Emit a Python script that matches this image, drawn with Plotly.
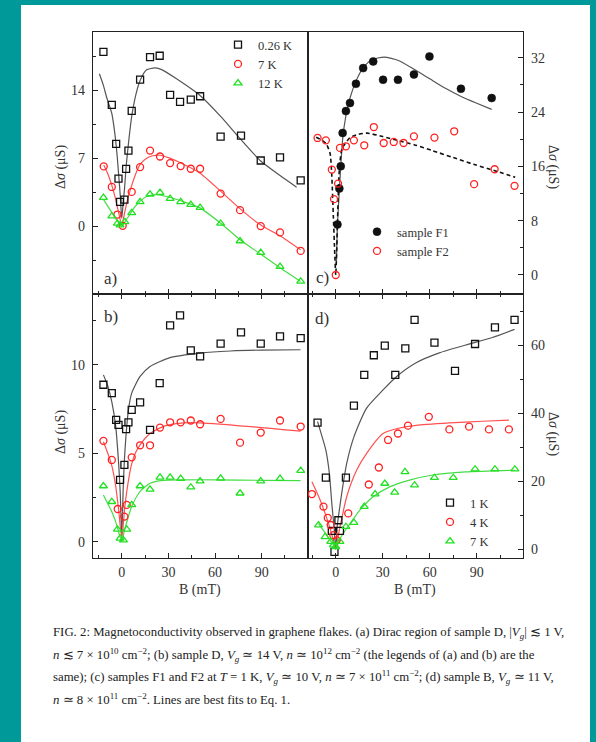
import plotly.graph_objects as go

# ---------------- data ----------------
# Panel a) Dirac region of sample D
a_sq_B = [-11.8, -6.4, -3.6, -2.1, -1.1, 1.7, 2.8, 4.3, 6.4, 11.8, 18.2, 24.4, 31.1, 37.5, 44.4, 50.4, 63.6, 76.7, 89.4, 101.8, 115.1]
a_sq_y = [17.96, 12.5, 8.47, 4.88, 2.49, 2.73, 5.9, 7.78, 11.88, 15.09, 17.41, 17.55, 13.52, 12.8, 13.04, 13.38, 9.22, 9.32, 6.76, 7.07, 4.71]
a_ci_B = [-11.6, -6.4, -2.8, 0.6, 6.4, 11.8, 18.2, 24.6, 31.1, 37.9, 44.4, 50.4, 63.6, 76.1, 89.4, 101.8, 115.1]
a_ci_y = [6.15, 4.03, 1.19, 0.03, 3.52, 6.08, 7.78, 7.17, 6.49, 6.18, 5.91, 5.91, 3.35, 1.64, 0.0, -0.65, -2.56]
a_tr_B = [-11.8, -6.4, -2.8, -1.1, 2.0, 6.4, 11.8, 18.2, 24.6, 31.1, 37.9, 44.4, 50.4, 63.6, 76.1, 89.4, 101.8, 115.1]
a_tr_y = [2.94, 1.02, 0.27, 0.1, 0.44, 1.37, 2.49, 3.28, 3.45, 2.83, 2.49, 2.22, 1.91, 0.27, -1.54, -2.73, -4.17, -5.70]
a_fit_sq_B = [-14.4, -12, -9.6, -6.4, -4.5, -3.0, -2.0, -1.0, 0.0, 1.0, 1.7, 2.8, 4.3, 6.4, 9.0, 11.8, 16, 21.4, 26, 35, 50, 63.6, 76.7, 89.4, 101.8, 112.5]
a_fit_sq_y = [15.7, 14.6, 13.2, 11.6, 9.6, 7.3, 5.3, 3.2, 0.8, 2.6, 3.7, 6.1, 8.5, 11.3, 13.5, 15.0, 16.1, 16.3, 16.1, 15.2, 13.5, 11.3, 8.9, 6.7, 5.2, 4.0]
a_fit_ci_B = [-11.6, -9, -6.4, -4, -2, 0, 2, 4, 6.4, 9, 12, 16, 20, 24.6, 30, 40, 50, 63.6, 76, 89.4, 101.8, 115]
a_fit_ci_y = [6.3, 5.4, 4.2, 2.8, 1.4, 0.1, 1.5, 2.9, 4.2, 5.4, 6.4, 7.0, 7.25, 7.3, 7.05, 6.35, 5.5, 3.6, 1.8, 0.1, -1.0, -2.45]
a_fit_tr_B = [-11.8, -8, -5, -2.5, 0, 2.5, 5, 8, 12, 16, 22.5, 30, 40, 50, 63.6, 76.1, 89.4, 101.8, 115]
a_fit_tr_y = [2.75, 1.8, 1.05, 0.45, 0.0, 0.55, 1.15, 1.9, 2.6, 3.05, 3.25, 3.0, 2.5, 1.9, 0.3, -1.4, -2.9, -4.3, -5.7]

# Panel b) sample D, Vg ~ 14 V
b_sq_B = [-11.8, -6.4, -3.6, -2.1, -1.1, 1.7, 2.8, 4.3, 6.4, 11.8, 18.2, 24.4, 31.1, 37.5, 44.4, 50.4, 63.6, 76.7, 89.4, 101.8, 115.1]
b_sq_y = [8.87, 8.40, 6.89, 6.60, 3.49, 4.34, 6.36, 6.74, 7.45, 7.87, 6.32, 8.96, 12.23, 12.79, 10.81, 10.47, 11.19, 11.83, 11.19, 11.60, 11.51]
b_ci_B = [-11.8, -6.4, -2.6, 1.7, 3.2, 6.4, 11.8, 18.2, 24.6, 31.1, 37.9, 44.4, 50.4, 63.6, 76.1, 89.4, 101.8, 115.1]
b_ci_y = [5.70, 4.62, 1.85, 1.42, 2.08, 4.77, 5.45, 5.45, 6.45, 6.75, 6.75, 6.85, 6.64, 6.94, 5.60, 6.17, 6.85, 6.51]
b_tr_B = [-11.8, -6.4, -2.8, -1.1, 1.1, 3.2, 6.4, 11.8, 18.2, 24.6, 31.1, 37.9, 44.4, 50.4, 63.6, 76.1, 89.4, 101.8, 115.1]
b_tr_y = [3.15, 2.26, 0.70, 0.19, 0.09, 0.70, 2.08, 3.15, 2.96, 3.64, 3.64, 3.57, 3.08, 3.43, 3.58, 2.74, 3.43, 3.57, 4.02]
b_fit_sq_B = [-11.8, -9, -6.4, -4, -2, -1, 0, 1, 2.1, 4.3, 6.4, 11.8, 18.2, 31, 50.4, 70, 90, 115]
b_fit_sq_y = [9.43, 8.8, 7.9, 6.6, 4.4, 2.8, 0.3, 3.2, 5.2, 7.45, 8.4, 9.34, 9.9, 10.4, 10.66, 10.78, 10.83, 10.85]
b_fit_ci_B = [-11.8, -9, -6.4, -4, -2, 0, 2, 4, 6.4, 9, 12, 18, 25, 31, 40, 50, 63, 76, 90, 102, 115]
b_fit_ci_y = [5.65, 5.0, 4.3, 3.2, 1.8, 0.2, 2.0, 3.3, 4.4, 5.05, 5.5, 6.1, 6.45, 6.62, 6.72, 6.72, 6.65, 6.55, 6.45, 6.35, 6.25]
b_fit_tr_B = [-11.8, -9, -6.4, -4, -2, 0, 1.5, 3.2, 6.4, 11.8, 18.2, 25, 31, 40, 60, 90, 115]
b_fit_tr_y = [2.64, 2.15, 1.7, 1.15, 0.55, 0.0, 0.55, 1.1, 2.0, 2.85, 3.3, 3.45, 3.48, 3.5, 3.5, 3.47, 3.45]

# Panel c) samples F1 and F2 at T = 1 K
c_f1_B = [1.1, 2.3, 3.2, 4.4, 6.5, 9.1, 12.9, 17.5, 23.9, 30.2, 39.7, 49.9, 59.8, 79.9, 99.5]
c_f1_y = [7.45, 12.74, 16.02, 20.92, 24.15, 25.33, 28.17, 30.48, 31.46, 28.76, 28.76, 29.54, 32.19, 27.44, 26.07]
c_f2_B = [-11.6, -6.3, -2.5, -1.1, 0.0, 1.5, 2.7, 6.5, 11.6, 18.2, 24.3, 30.6, 37.0, 43.3, 49.9, 63.0, 75.6, 88.3, 101.4, 114.1]
c_f2_y = [20.19, 19.84, 15.53, 11.17, 0.0, 13.47, 18.72, 18.96, 19.84, 19.11, 21.80, 19.45, 19.60, 19.45, 20.43, 20.24, 21.17, 13.38, 15.58, 13.13]
c_fit_f1_B = [0.4, 1.1, 2.3, 3.2, 4.4, 6.5, 9.0, 13.0, 17.5, 23.0, 31.0, 40.0, 50.0, 60.0, 70.0, 80.0, 90.0, 99.5]
c_fit_f1_y = [1.5, 7.5, 12.5, 16.0, 20.0, 23.5, 26.0, 28.6, 30.5, 31.7, 32.1, 31.6, 30.3, 28.9, 27.5, 26.3, 25.3, 24.4]
c_fit_f2_B = [-12.5, -9, -6, -3.6, -2.5, -1.5, -0.6, 0, 0.6, 1.5, 2.3, 4, 9, 14, 20, 30, 40, 50, 62, 75, 88, 101, 114.5]
c_fit_f2_y = [20.3, 19.9, 19.3, 17.9, 14.5, 8.5, 3.0, 0.0, 3.5, 11.0, 15.5, 18.6, 20.2, 20.7, 20.9, 20.4, 19.8, 19.2, 18.3, 17.3, 16.3, 15.4, 14.4]

# Panel d) sample B
d_sq_B = [-11.6, -6.3, -2.5, -0.8, 1.7, 2.7, 6.5, 11.6, 18.2, 24.3, 31.3, 38.0, 44.4, 50.3, 63.0, 76.1, 88.9, 101.6, 114.1]
d_sq_y = [37.2, 21.0, 5.4, -0.8, 8.5, 5.4, 21.0, 42.2, 51.2, 57.0, 59.8, 51.2, 59.0, 67.4, 60.7, 52.4, 60.3, 65.2, 67.4]
d_ci_B = [-15.2, -7.8, -5.1, -3.2, -1.5, 0.6, 8.0, 21.1, 27.5, 33.4, 39.7, 46.1, 59.4, 72.5, 85.1, 97.8, 110.5]
d_ci_y = [16.2, 12.5, 9.2, 7.1, 4.1, 2.6, 10.5, 19.0, 24.0, 32.1, 34.0, 36.3, 38.9, 35.2, 36.0, 35.2, 35.2]
d_tr_B = [-11.0, -6.8, -3.2, -1.5, 0.0, 2.7, 6.5, 11.6, 18.2, 25.1, 31.3, 37.6, 44.2, 50.3, 63.0, 75.0, 88.9, 101.6, 114.3]
d_tr_y = [7.06, 3.6, 2.2, 1.2, 0.7, 2.2, 6.6, 7.8, 12.5, 16.2, 19.3, 16.7, 22.7, 18.8, 21.0, 21.0, 23.5, 23.5, 23.5]
d_fit_sq_B = [-11.6, -9, -6.3, -4, -2.5, -1, 0, 1, 2.3, 4, 7.0, 11.6, 19.6, 30.2, 38.7, 51.3, 66.1, 83.0, 99.9, 114.1]
d_fit_sq_y = [37.5, 33.5, 29.1, 22.0, 13.4, 6.0, 0.0, 7.0, 11.5, 17.0, 25.2, 33.0, 41.4, 46.8, 50.7, 54.8, 57.7, 60.0, 62.2, 64.6]
d_fit_ci_B = [-15.2, -9.9, -4.6, -1.5, 0, 2.3, 7.0, 13.3, 19.6, 30.2, 40.8, 51.3, 72.5, 93.6, 110.5]
d_fit_ci_y = [19.8, 14.4, 7.5, 2.6, 0.0, 5.6, 15.4, 23.2, 28.1, 34.0, 35.6, 36.4, 37.1, 37.6, 37.9]
d_fit_tr_B = [-11.0, -5.7, -1.5, 0, 2.7, 9.1, 15.4, 23.9, 34.4, 47.1, 61.9, 83.0, 114.3]
d_fit_tr_y = [7.5, 4.1, 1.2, 0.0, 3.1, 7.5, 11.5, 15.4, 18.3, 20.3, 21.8, 22.7, 23.2]

x_tick_vals = [0, 30, 60, 90]
a_y_ticks = [0, 7, 14]
b_y_ticks = [0, 5, 10]
c_y_ticks = [0, 8, 16, 24, 32]
d_y_ticks = [0, 20, 40, 60]

legend_a = ["0.26 K", "7 K", "12 K"]
legend_c = ["sample F1", "sample F2"]
legend_d = ["1 K", "4 K", "7 K"]

caption_lines = [
    "FIG. 2: Magnetoconductivity observed in graphene flakes. (a) Dirac region of sample D, |<i>V</i><sub><i>g</i></sub>| ≲ 1 V,",
    "<i>n</i> ≲ 7 × 10<sup>10</sup> cm<sup>−2</sup>; (b) sample D, <i>V</i><sub><i>g</i></sub> ≃ 14 V, <i>n</i> ≃ 10<sup>12</sup> cm<sup>−2</sup> (the legends of (a) and (b) are the",
    "same); (c) samples F1 and F2 at <i>T</i> = 1 K, <i>V</i><sub><i>g</i></sub> ≃ 10 V, <i>n</i> ≃ 7 × 10<sup>11</sup> cm<sup>−2</sup>; (d) sample B, <i>V</i><sub><i>g</i></sub> ≃ 11 V,",
    "<i>n</i> ≃ 8 × 10<sup>11</sup> cm<sup>−2</sup>. Lines are best fits to Eq. 1.",
]

# ---------------- styling ----------------
W, H = 596, 742
TEAL = "#009999"
BLACK = "#111111"
RED = "#ff2020"
GREEN = "#22e022"
FIT_BLACK = "#555555"
FIT_RED = "#ff5050"
FIT_GREEN = "#44dd44"
SERIF = "Liberation Serif"

def px(x):
    return x / W

def py(y):
    return 1 - y / H

XL, XM, XR = 93, 308, 523
YT, YM, YB = 32, 294, 558

fig = go.Figure()

def markers(x, y, xa, ya, symbol, color, name=None, legend=None, size=7, lw=1.3):
    fig.add_trace(go.Scatter(
        x=x, y=y, xaxis=xa, yaxis=ya, mode="markers", name=name,
        showlegend=name is not None, legend=legend,
        marker=dict(symbol=symbol, size=size, color=color, line=dict(color=color, width=lw)),
    ))

def fitline(x, y, xa, ya, color, dash="solid", width=1.2):
    fig.add_trace(go.Scatter(
        x=x, y=y, xaxis=xa, yaxis=ya, mode="lines", showlegend=False,
        line=dict(color=color, width=width, dash=dash, shape="spline", smoothing=0.6),
        hoverinfo="skip",
    ))

# panel a
fitline(a_fit_sq_B, a_fit_sq_y, "x", "y", FIT_BLACK)
fitline(a_fit_ci_B, a_fit_ci_y, "x", "y", FIT_RED)
fitline(a_fit_tr_B, a_fit_tr_y, "x", "y", FIT_GREEN)
markers(a_sq_B, a_sq_y, "x", "y", "square-open", BLACK, legend_a[0], "legend")
markers(a_ci_B, a_ci_y, "x", "y", "circle-open", RED, legend_a[1], "legend")
markers(a_tr_B, a_tr_y, "x", "y", "triangle-up-open", GREEN, legend_a[2], "legend")

# panel b
fitline(b_fit_sq_B, b_fit_sq_y, "x2", "y2", FIT_BLACK)
fitline(b_fit_ci_B, b_fit_ci_y, "x2", "y2", FIT_RED)
fitline(b_fit_tr_B, b_fit_tr_y, "x2", "y2", FIT_GREEN)
markers(b_sq_B, b_sq_y, "x2", "y2", "square-open", BLACK)
markers(b_ci_B, b_ci_y, "x2", "y2", "circle-open", RED)
markers(b_tr_B, b_tr_y, "x2", "y2", "triangle-up-open", GREEN)

# panel c
fitline(c_fit_f1_B, c_fit_f1_y, "x3", "y3", FIT_BLACK)
fitline(c_fit_f2_B, c_fit_f2_y, "x3", "y3", BLACK, dash="4px,3px", width=1.6)
markers(c_f1_B, c_f1_y, "x3", "y3", "circle", BLACK, legend_c[0], "legend2", size=8, lw=0.5)
markers(c_f2_B, c_f2_y, "x3", "y3", "circle-open", RED, legend_c[1], "legend2")

# panel d
fitline(d_fit_sq_B, d_fit_sq_y, "x4", "y4", FIT_BLACK)
fitline(d_fit_ci_B, d_fit_ci_y, "x4", "y4", FIT_RED)
fitline(d_fit_tr_B, d_fit_tr_y, "x4", "y4", FIT_GREEN)
markers(d_sq_B, d_sq_y, "x4", "y4", "square-open", BLACK, legend_d[0], "legend3")
markers(d_ci_B, d_ci_y, "x4", "y4", "circle-open", RED, legend_d[1], "legend3")
markers(d_tr_B, d_tr_y, "x4", "y4", "triangle-up-open", GREEN, legend_d[2], "legend3")

tickfont = dict(family=SERIF, size=14, color="#333333")
common = dict(showgrid=False, zeroline=False, showline=True, linecolor="#222222", linewidth=1.2,
              ticks="inside", ticklen=5, tickwidth=1, tickcolor="#222222", tickfont=tickfont)
minor_x = dict(ticks="inside", dtick=15, ticklen=3, tickcolor="#222222")

xrange_ab = [-18.5, 119.8]
xrange_cd = [-17.7, 119.5]

fig.update_layout(
    xaxis=dict(domain=[px(XL), px(XM)], anchor="y", range=xrange_ab, tickvals=x_tick_vals,
               showticklabels=False, mirror=True, minor=minor_x, **common),
    yaxis=dict(domain=[py(YM), py(YT)], anchor="x", range=[-7, 20], tickvals=a_y_ticks,
               mirror=True, minor=dict(ticks="inside", dtick=3.5, ticklen=3, tickcolor="#222222"),
               ticklabelstandoff=4, **common),
    xaxis2=dict(domain=[px(XL), px(XM)], anchor="y2", range=xrange_ab, tickvals=x_tick_vals,
                mirror="allticks", minor=minor_x, ticklabelstandoff=1, **common),
    yaxis2=dict(domain=[py(YB), py(YM)], anchor="x2", range=[-0.92, 14.0], tickvals=b_y_ticks,
                mirror=True, minor=dict(ticks="inside", dtick=2.5, ticklen=3, tickcolor="#222222"),
                ticklabelstandoff=4, **common),
    xaxis3=dict(domain=[px(XM), px(XR)], anchor="y3", range=xrange_cd, tickvals=x_tick_vals,
                showticklabels=False, mirror=True, minor=minor_x, **common),
    yaxis3=dict(domain=[py(YM), py(YT)], anchor="x3", side="right", range=[-2.8, 35.8], tickvals=c_y_ticks,
                mirror=True, minor=dict(ticks="inside", dtick=4, ticklen=3, tickcolor="#222222"),
                ticklabelstandoff=4, **common),
    xaxis4=dict(domain=[px(XM), px(XR)], anchor="y4", range=xrange_cd, tickvals=x_tick_vals,
                mirror="allticks", minor=minor_x, ticklabelstandoff=1, **common),
    yaxis4=dict(domain=[py(YB), py(YM)], anchor="x4", side="right", range=[-2.6, 75], tickvals=d_y_ticks,
                mirror=True, minor=dict(ticks="inside", dtick=10, ticklen=3, tickcolor="#222222"),
                ticklabelstandoff=4, **common),
)

legfont = dict(family=SERIF, size=12.5, color="#333333")
legcommon = dict(bgcolor="rgba(0,0,0,0)", borderwidth=0, font=legfont, xanchor="left", yanchor="top",
                 tracegroupgap=0, itemwidth=30)
fig.update_layout(
    legend=dict(x=px(218), y=py(30), **legcommon),
    legend2=dict(x=px(357), y=py(217), **legcommon),
    legend3=dict(x=px(430), y=py(488), **legcommon),
)

annots = []
title_font = dict(family=SERIF, size=14, color="#333333")
ytitle = "Δ<i>σ</i> (μS)"
annots.append(dict(x=px(61), y=py(167), text=ytitle, textangle=-90, showarrow=False, font=title_font,
                   xref="paper", yref="paper", xanchor="center", yanchor="middle"))
annots.append(dict(x=px(61), y=py(432), text=ytitle, textangle=-90, showarrow=False, font=title_font,
                   xref="paper", yref="paper", xanchor="center", yanchor="middle"))
annots.append(dict(x=px(553), y=py(167), text=ytitle, textangle=90, showarrow=False, font=title_font,
                   xref="paper", yref="paper", xanchor="center", yanchor="middle"))
annots.append(dict(x=px(553), y=py(434), text=ytitle, textangle=90, showarrow=False, font=title_font,
                   xref="paper", yref="paper", xanchor="center", yanchor="middle"))
annots.append(dict(x=px(200), y=py(590), text="B (mT)", showarrow=False, font=title_font,
                   xref="paper", yref="paper", xanchor="center", yanchor="middle"))
annots.append(dict(x=px(415), y=py(590), text="B (mT)", showarrow=False, font=title_font,
                   xref="paper", yref="paper", xanchor="center", yanchor="middle"))

label_font = dict(family=SERIF, size=17, color="#333333")
for txt, xx, yy in [("a)", 102, 278), ("b)", 102, 317), ("c)", 314, 277), ("d)", 313, 318)]:
    annots.append(dict(x=px(xx), y=py(yy), text=txt, showarrow=False, font=label_font,
                       xref="paper", yref="paper", xanchor="left", yanchor="middle"))

cap_font = dict(family=SERIF, size=12.8, color="#222222")
for i, line in enumerate(caption_lines):
    annots.append(dict(x=px(51), y=py(633 + 22 * i), text=line, showarrow=False, font=cap_font,
                       xref="paper", yref="paper", xanchor="left", yanchor="middle", align="left"))

fig.update_layout(
    annotations=annots,
    width=W, height=H,
    margin=dict(l=0, r=0, t=0, b=0),
    paper_bgcolor=TEAL,
    plot_bgcolor="white",
    shapes=[dict(type="rect", xref="paper", yref="paper", x0=px(21), x1=px(590), y0=0, y1=py(5),
                 fillcolor="white", line=dict(width=0), layer="below")],
)

fig.write_html("out.html")
